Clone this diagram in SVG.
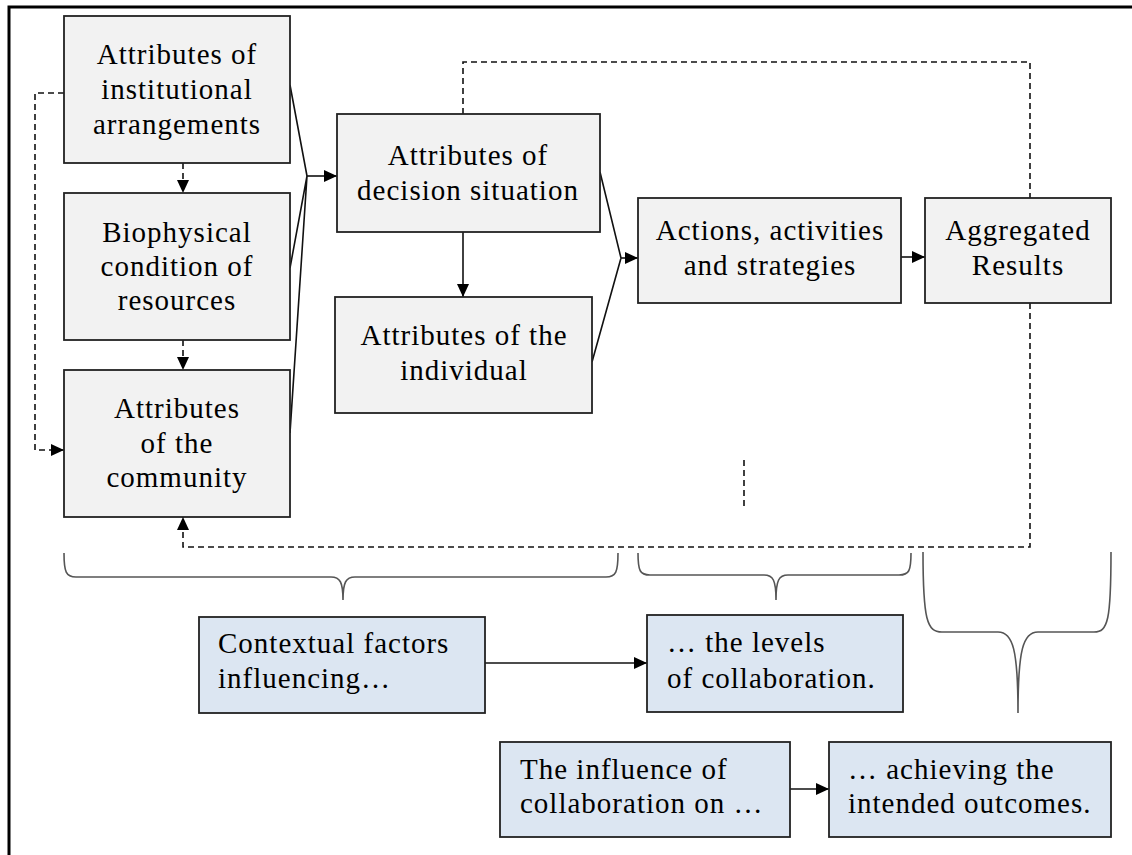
<svg xmlns="http://www.w3.org/2000/svg" width="1132" height="855" viewBox="0 0 1132 855">
<defs>
<marker id="ah" markerWidth="14" markerHeight="14" refX="13" refY="7" orient="auto" markerUnits="userSpaceOnUse">
<path d="M0,1 L13,7 L0,13 z" fill="#000"/>
</marker>
<style>
.g{fill:#f2f2f2;stroke:#222;stroke-width:1.8}
.b{fill:#dce6f2;stroke:#222;stroke-width:1.8}
.t{font-family:"Liberation Serif","Times New Roman",serif;font-size:29px;letter-spacing:1px;fill:#000}
.c{text-anchor:middle}
.s{fill:none;stroke:#111;stroke-width:1.6}
.d{fill:none;stroke:#111;stroke-width:1.6;stroke-dasharray:6 4}
.br{fill:none;stroke:#555;stroke-width:1.6}
</style>
</defs>
<rect width="1132" height="855" fill="#fff"/>
<path d="M9,855 L9,7 L1132,7" fill="none" stroke="#000" stroke-width="3"/>

<g id="connectors">
<path class="d" d="M64,93 L35,93 L35,450 L64,450" marker-end="url(#ah)"/>
<path class="d" d="M183,163 L183,193" marker-end="url(#ah)"/>
<path class="d" d="M183,340 L183,370" marker-end="url(#ah)"/>
<path class="s" d="M290,85 L307,176 M290,268 L307,176 M290,433 L307,176"/>
<path class="s" d="M307,176 L337,176" marker-end="url(#ah)"/>
<path class="s" d="M463,232 L463,297" marker-end="url(#ah)"/>
<path class="s" d="M600,172 L621,258 M592,362 L621,258"/>
<path class="s" d="M621,258 L638,258" marker-end="url(#ah)"/>
<path class="s" d="M901,257 L925,257" marker-end="url(#ah)"/>
<path class="d" d="M463,114 L463,62 L1030,62 L1030,547 L183,547 L183,517" marker-end="url(#ah)"/>
<path class="d" d="M744,460 L744,510"/>
<path class="s" d="M485,663 L647,663" marker-end="url(#ah)"/>
<path class="s" d="M790,789 L829,789" marker-end="url(#ah)"/>
</g>

<g id="braces">
<path class="br" d="M64,553 C64,572 66,577 76,577 L331,577 C340,577 343,582 343,600 C343,582 346,577 355,577 L606,577 C616,577 618,572 618,553"/>
<path class="br" d="M638,553 C638,571 640,575 650,575 L764,575 C773,575 776,580 776,600 C776,580 779,575 788,575 L899,575 C909,575 911,571 911,553"/>
<path class="br" d="M923,552 C923,620 927,632 942,632 L998,632 C1013,632 1018,650 1018,713 C1018,650 1023,632 1038,632 L1094,632 C1108,632 1111,620 1111,552"/>
</g>

<g id="n-institutional">
<rect class="g" x="64" y="16" width="226" height="147"/>
<text class="t c" x="177" y="64">Attributes of</text>
<text class="t c" x="177" y="99">institutional</text>
<text class="t c" x="177" y="134">arrangements</text>
</g>
<g id="n-biophysical">
<rect class="g" x="64" y="193" width="226" height="147"/>
<text class="t c" x="177" y="242">Biophysical</text>
<text class="t c" x="177" y="276">condition of</text>
<text class="t c" x="177" y="310">resources</text>
</g>
<g id="n-community">
<rect class="g" x="64" y="370" width="226" height="147"/>
<text class="t c" x="177" y="418">Attributes</text>
<text class="t c" x="177" y="453">of the</text>
<text class="t c" x="177" y="487">community</text>
</g>
<g id="n-decision">
<rect class="g" x="337" y="114" width="263" height="118"/>
<text class="t c" x="468" y="165">Attributes of</text>
<text class="t c" x="468" y="200">decision situation</text>
</g>
<g id="n-individual">
<rect class="g" x="335" y="297" width="257" height="116"/>
<text class="t c" x="464" y="345">Attributes of the</text>
<text class="t c" x="464" y="380">individual</text>
</g>
<g id="n-actions">
<rect class="g" x="638" y="198" width="263" height="105"/>
<text class="t c" x="770" y="240">Actions, activities</text>
<text class="t c" x="770" y="275">and strategies</text>
</g>
<g id="n-aggregated">
<rect class="g" x="925" y="198" width="186" height="105"/>
<text class="t c" x="1018" y="240">Aggregated</text>
<text class="t c" x="1018" y="275">Results</text>
</g>
<g id="n-contextual">
<rect class="b" x="199" y="617" width="286" height="96"/>
<text class="t" x="218" y="653">Contextual factors</text>
<text class="t" x="218" y="688">influencing…</text>
</g>
<g id="n-levels">
<rect class="b" x="647" y="615" width="256" height="97"/>
<text class="t" x="667" y="652">… the levels</text>
<text class="t" x="667" y="688">of collaboration.</text>
</g>
<g id="n-influence">
<rect class="b" x="500" y="742" width="290" height="95"/>
<text class="t" x="520" y="779">The influence of</text>
<text class="t" x="520" y="813">collaboration on …</text>
</g>
<g id="n-achieving">
<rect class="b" x="829" y="742" width="282" height="95"/>
<text class="t" x="848" y="779">… achieving the</text>
<text class="t" x="848" y="813">intended outcomes.</text>
</g>
</svg>
